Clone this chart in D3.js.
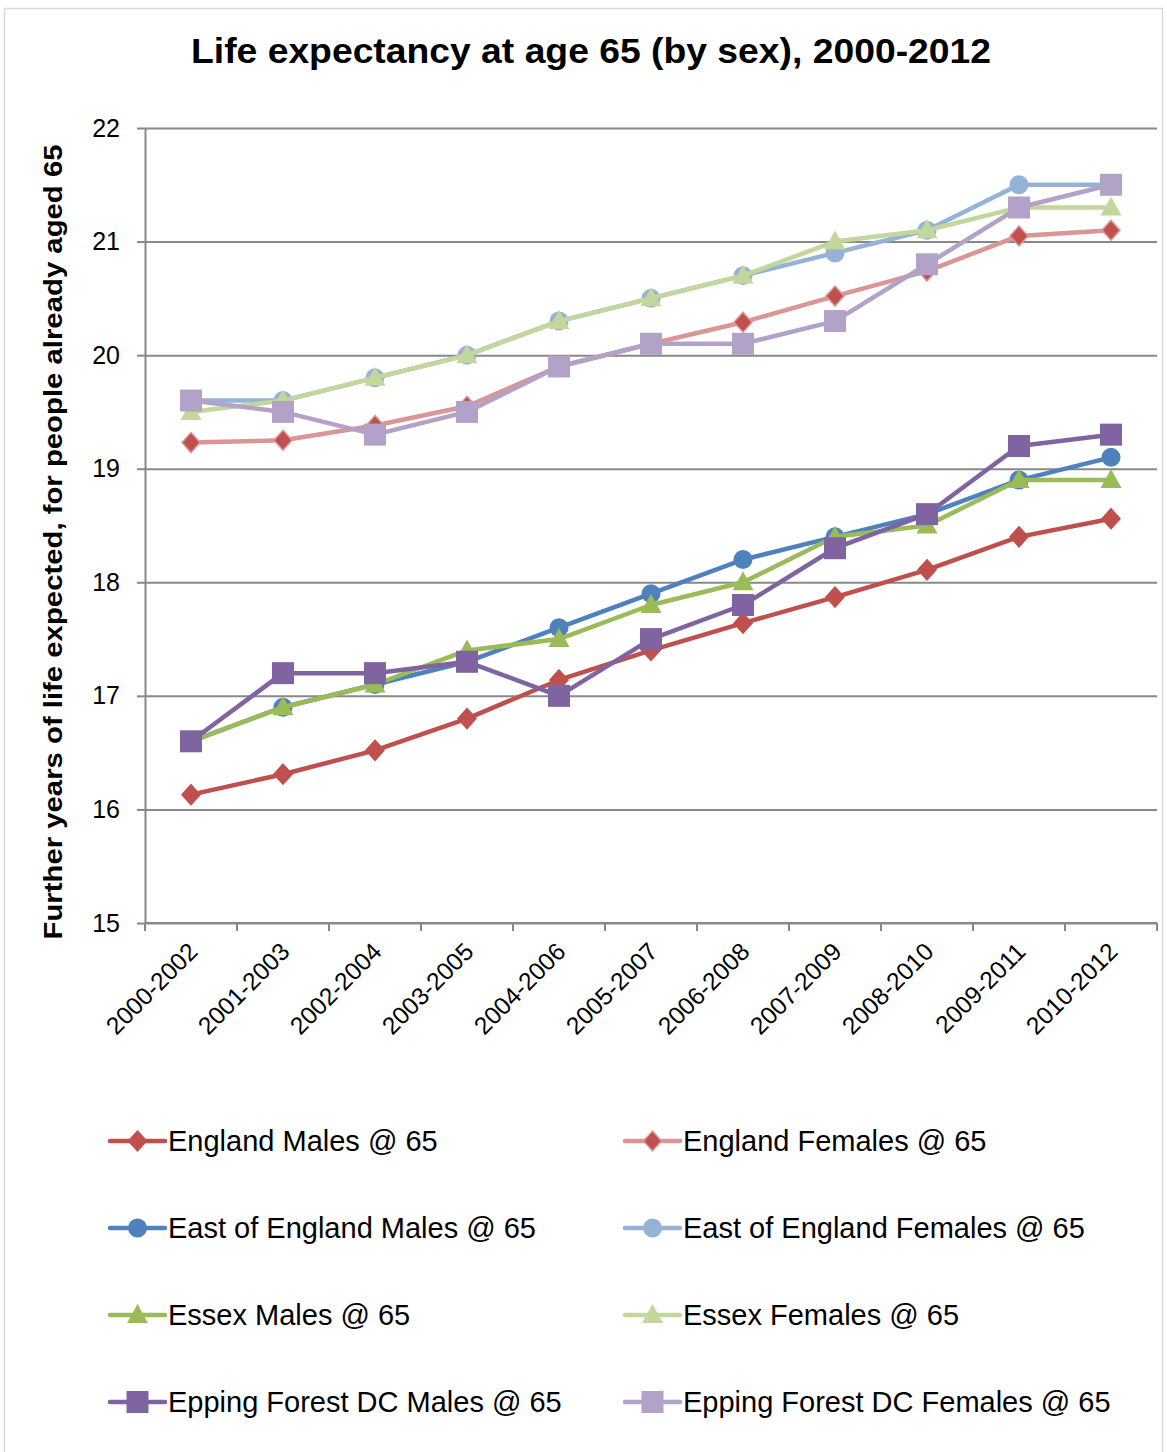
<!DOCTYPE html>
<html>
<head>
<meta charset="utf-8">
<script src="https://cdn.jsdelivr.net/npm/d3@7"></script>
<style>
  body { margin: 0; background: #fff; }
  text { font-family: "Liberation Sans", Arial, sans-serif; }
</style>
</head>
<body>
<script>
const periods = ["2000-2002", "2001-2003", "2002-2004", "2003-2005", "2004-2006", "2005-2007",
    "2006-2008", "2007-2009", "2008-2010", "2009-2011", "2010-2012"];

const englandMales = [16.13, 16.31, 16.52, 16.80, 17.14, 17.40, 17.64, 17.87, 18.11, 18.40, 18.56];
const englandFemales = [19.23, 19.25, 19.38, 19.55, 19.90, 20.10, 20.29, 20.52, 20.74, 21.05, 21.10];
const eastMales = [16.6, 16.9, 17.1, 17.3, 17.6, 17.9, 18.2, 18.4, 18.6, 18.9, 19.1];
const eastFemales = [19.6, 19.6, 19.8, 20.0, 20.3, 20.5, 20.7, 20.9, 21.1, 21.5, 21.5];
const essexMales = [16.6, 16.9, 17.1, 17.4, 17.5, 17.8, 18.0, 18.4, 18.5, 18.9, 18.9];
const essexFemales = [19.5, 19.6, 19.8, 20.0, 20.3, 20.5, 20.7, 21.0, 21.1, 21.3, 21.3];
const eppingMales = [16.6, 17.2, 17.2, 17.3, 17.0, 17.5, 17.8, 18.3, 18.6, 19.2, 19.3];
const eppingFemales = [19.6, 19.5, 19.3, 19.5, 19.9, 20.1, 20.1, 20.3, 20.8, 21.3, 21.5];

const yTicks = [15, 16, 17, 18, 19, 20, 21, 22];

const series = [
    { name: "England Males @ 65", values: englandMales, line: "#C0504D", fill: "#C0504D", stroke: "#C0504D", shape: "diamond" },
    { name: "England Females @ 65", values: englandFemales, line: "#D99694", fill: "#C0504D", stroke: "#D99694", shape: "diamond" },
    { name: "East of England Males @ 65", values: eastMales, line: "#4F81BD", fill: "#4F81BD", stroke: "#4F81BD", shape: "circle" },
    { name: "East of England Females @ 65", values: eastFemales, line: "#95B3D7", fill: "#95B3D7", stroke: "#95B3D7", shape: "circle" },
    { name: "Essex Males @ 65", values: essexMales, line: "#9BBB59", fill: "#9BBB59", stroke: "#9BBB59", shape: "triangle" },
    { name: "Essex Females @ 65", values: essexFemales, line: "#C3D69B", fill: "#C3D69B", stroke: "#C3D69B", shape: "triangle" },
    { name: "Epping Forest DC Males @ 65", values: eppingMales, line: "#8064A2", fill: "#8064A2", stroke: "#8064A2", shape: "square" },
    { name: "Epping Forest DC Females @ 65", values: eppingFemales, line: "#B3A2C7", fill: "#B3A2C7", stroke: "#B3A2C7", shape: "square" }
];

const W = 1167, H = 1452;
const margin = { top: 128, right: 10, bottom: 529, left: 145 };

const svg = d3.select("body").append("svg")
    .attr("width", W)
    .attr("height", H);

// chart border
svg.append("rect")
    .attr("x", 4.5).attr("y", 8.5)
    .attr("width", 1158).attr("height", H)
    .attr("fill", "none")
    .attr("stroke", "#d9d9d9")
    .attr("stroke-width", 1.5);

svg.append("text")
    .attr("x", 591)
    .attr("y", 63)
    .attr("text-anchor", "middle")
    .attr("font-size", 35)
    .attr("font-weight", "bold")
    .attr("textLength", 800)
    .attr("lengthAdjust", "spacingAndGlyphs")
    .text("Life expectancy at age 65 (by sex), 2000-2012");

const x = d3.scaleBand()
    .domain(periods)
    .range([margin.left, W - margin.right])
    .padding(0);

const y = d3.scaleLinear()
    .domain([15, 22])
    .range([H - margin.bottom, margin.top]);

const cx = d => x(d) + x.bandwidth() / 2;

// gridlines
svg.append("g")
    .attr("transform", `translate(${margin.left},0)`)
    .call(d3.axisLeft(y).tickValues(yTicks).tickSize(-(W - margin.right - margin.left)).tickFormat(""))
    .call(g => g.select(".domain").remove())
    .selectAll("line")
    .attr("stroke", "#888")
    .attr("stroke-width", 2);

// y axis
const yAxis = svg.append("g")
    .attr("transform", `translate(${margin.left},0)`)
    .call(d3.axisLeft(y).tickValues(yTicks).tickFormat(d3.format("d"))
        .tickSizeInner(8).tickSizeOuter(0).tickPadding(17));
yAxis.select(".domain").attr("stroke", "#888").attr("stroke-width", 2);
yAxis.selectAll("line").attr("stroke", "#888").attr("stroke-width", 2);
yAxis.selectAll("text")
    .attr("font-size", 25)
    .attr("fill", "#000")
    .attr("font-family", "Liberation Sans, Arial, sans-serif");

svg.append("text")
    .attr("transform", `translate(62,542) rotate(-90)`)
    .attr("text-anchor", "middle")
    .attr("font-size", 26)
    .attr("font-weight", "bold")
    .attr("textLength", 795)
    .attr("lengthAdjust", "spacingAndGlyphs")
    .text("Further years of life expected, for people already aged 65");

// x axis
const xAxisG = svg.append("g");
xAxisG.append("line")
    .attr("x1", margin.left).attr("x2", W - margin.right)
    .attr("y1", y(15)).attr("y2", y(15))
    .attr("stroke", "#888").attr("stroke-width", 2);
xAxisG.selectAll(".tick")
    .data(periods.map(p => x(p)).concat([W - margin.right]))
    .enter().append("line")
    .attr("x1", d => d).attr("x2", d => d)
    .attr("y1", y(15)).attr("y2", y(15) + 8)
    .attr("stroke", "#888").attr("stroke-width", 2);
xAxisG.selectAll(".lbl")
    .data(periods)
    .enter().append("text")
    .attr("transform", d => `translate(${cx(d) - 4},${y(15) + 18}) rotate(-45)`)
    .attr("text-anchor", "end")
    .attr("dy", "0.7em")
    .attr("font-size", 24.5)
    .text(d => d);

function marker(sel, shape) {
    if (shape === "circle") {
        sel.append("circle").attr("r", 9.5);
    } else if (shape === "square") {
        sel.append("rect").attr("x", -11).attr("y", -11).attr("width", 22).attr("height", 22);
    } else if (shape === "diamond") {
        sel.append("path").attr("d", "M0,-10L9,0L0,10L-9,0Z");
    } else {
        sel.append("path").attr("d", "M0,-11L10.5,8L-10.5,8Z");
    }
}

const line = d3.line()
    .x((d, i) => cx(periods[i]))
    .y(d => y(d));

series.forEach(s => {
    const g = svg.append("g");
    g.append("path")
        .datum(s.values)
        .attr("d", line)
        .attr("fill", "none")
        .attr("stroke", s.line)
        .attr("stroke-width", 4.5)
        .attr("stroke-linejoin", "round");
    g.selectAll(".m")
        .data(s.values)
        .enter().append("g")
        .attr("transform", (d, i) => `translate(${cx(periods[i])},${y(d)})`)
        .attr("fill", s.fill)
        .attr("stroke", s.stroke)
        .attr("stroke-width", s.shape === "diamond" ? 1.5 : 0)
        .each(function () { marker(d3.select(this), s.shape); });
});

// legend
const legendCols = [110, 625];
const legendRows = [1141, 1228, 1315, 1402];
series.forEach((s, i) => {
    const lx = legendCols[i % 2], ly = legendRows[Math.floor(i / 2)];
    const g = svg.append("g").attr("transform", `translate(${lx},${ly})`);
    g.append("line")
        .attr("x1", 0).attr("x2", 55)
        .attr("stroke", s.line).attr("stroke-width", 4.5)
        .attr("stroke-linecap", "round");
    const m = g.append("g")
        .attr("transform", "translate(27.5,0)")
        .attr("fill", s.fill)
        .attr("stroke", s.stroke)
        .attr("stroke-width", s.shape === "diamond" ? 1.5 : 0);
    marker(m, s.shape);
    g.append("text")
        .attr("x", 58)
        .attr("dy", "0.35em")
        .attr("font-size", 29)
        .text(s.name);
});
</script>
</body>
</html>
